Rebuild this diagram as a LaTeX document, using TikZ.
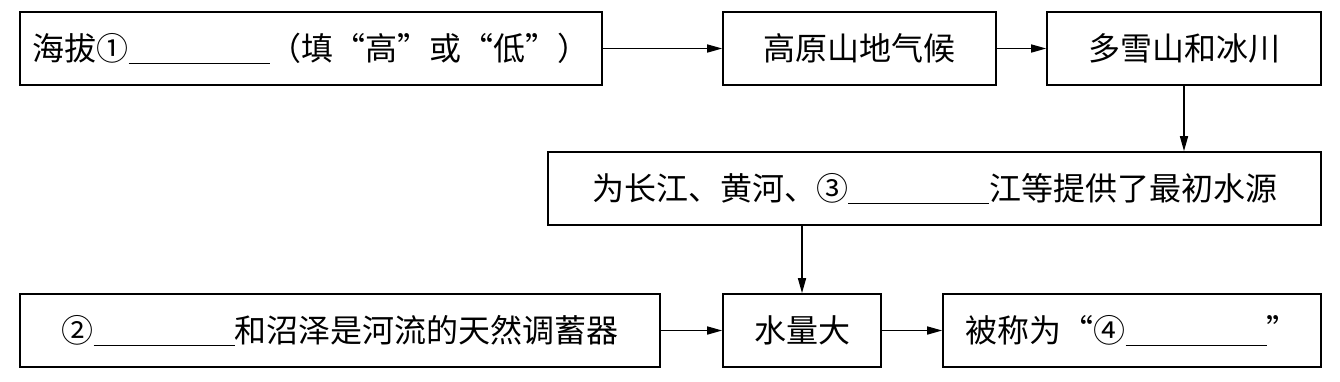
\documentclass[tikz,border=0pt]{standalone}
\usepackage{fontspec}
\setmainfont{Noto Sans CJK SC}
\usetikzlibrary{arrows.meta}
\newcommand{\blank}{\rule[-4pt]{141pt}{1.3pt}}
\begin{document}
\begin{tikzpicture}[x=1pt,y=-1pt,
  box/.style={draw,line width=1.6pt,rectangle,inner sep=0pt,minimum height=73pt,font=\fontsize{32}{36}\selectfont},
  arr/.style={line width=1.5pt,-{Triangle[length=15pt,width=8pt]}}]
\fill[white] (0,0) rectangle (1340,381);
\useasboundingbox (0,0) rectangle (1340,381);
\node[box,minimum width=582pt] (b1) at (311,48.5) {海拔①\blank（填“高”或“低”）};
\node[box,minimum width=273pt] (b2) at (859.5,48.5) {高原山地气候};
\node[box,minimum width=274pt] (b3) at (1184,48.5) {多雪山和冰川};
\node[box,minimum width=773pt] (b4) at (934.5,188.5) {为长江、黄河、③\blank 江等提供了最初水源};
\node[box,minimum width=640pt] (b5) at (340,330.5) {②\blank 和沼泽是河流的天然调蓄器};
\node[box,minimum width=158pt] (b6) at (802,330.5) {水量大};
\node[box,minimum width=378pt] (b7) at (1132,330.5) {被称为“④\blank ”};
\draw[arr] (b1.east) -- (b2.west);
\draw[arr] (b2.east) -- (b3.west);
\draw[arr] (b3.south) -- (b3.south |- b4.north);
\draw[arr] (b6.north |- b4.south) -- (b6.north);
\draw[arr] (b5.east) -- (b6.west);
\draw[arr] (b6.east) -- (b7.west);
\end{tikzpicture}
\end{document}
